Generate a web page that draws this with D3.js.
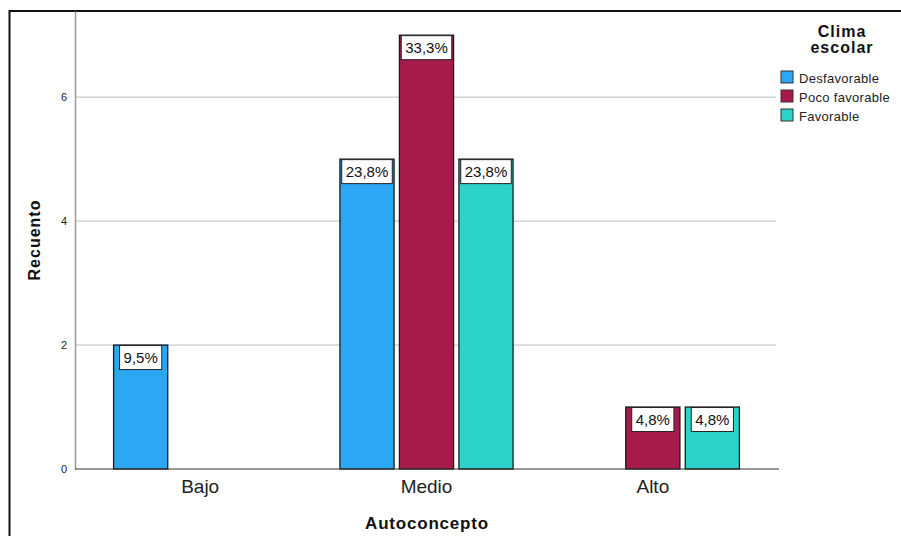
<!DOCTYPE html>
<html><head><meta charset="utf-8">
<script src="https://cdn.jsdelivr.net/npm/d3@7"></script>
<style>body{margin:0;background:#fff}svg{display:block;font-family:"Liberation Sans",Arial,sans-serif}</style>
</head><body>
<svg id="c" width="901" height="536"></svg>
<script>
const categories = ["Bajo", "Medio", "Alto"];
const seriesNames = ["Desfavorable", "Poco favorable", "Favorable"];
const desfavorable = [2, 5, 0];
const pocoFavorable = [0, 7, 1];
const favorable = [0, 5, 1];
const yTicks = [0, 2, 4, 6];
const colors = ["#2ba7f3", "#a71a4c", "#2bd3ca"];
const xTitle = "Autoconcepto";
const yTitle = "Recuento";
const legendTitle = ["Clima", "escolar"];

const seriesValues = [desfavorable, pocoFavorable, favorable];
const total = d3.sum(seriesValues.flat());
const svg = d3.select("#c");

// outer frame
svg.append("rect").attr("x", 9.5).attr("y", 11).attr("width", 1000).attr("height", 600)
  .attr("fill", "none").attr("stroke", "#111").attr("stroke-width", 2);

const y = d3.scaleLinear().domain([0, 7.39]).range([469, 11]);
const x0 = d3.scaleBand().domain(categories).range([87, 766]);
const x1 = d3.scaleBand().domain(seriesNames).range([-89.25, 89.25]).paddingInner(0.09).paddingOuter(0.045);

// grid
svg.append("g").selectAll("line").data(yTicks.filter(t => t > 0)).join("line")
  .attr("x1", 75).attr("x2", 776).attr("y1", d => y(d)).attr("y2", d => y(d))
  .attr("stroke", "#bdbdbd").attr("stroke-width", 1);

// y axis
const yAxis = svg.append("g").attr("transform", "translate(75,0)")
  .call(d3.axisLeft(y).tickValues(yTicks).tickSize(0).tickPadding(8));
yAxis.select(".domain").attr("stroke", "#9a9a9a").attr("stroke-width", 1.5);
yAxis.selectAll("text").attr("font-size", 11).attr("fill", "#222").attr("font-family", "Liberation Sans, Arial");

// bars
const data = [];
categories.forEach((c, i) => seriesNames.forEach((s, j) => {
  if (seriesValues[j][i] > 0) data.push({c, s, v: seriesValues[j][i], j});
}));
const bars = svg.append("g");
bars.selectAll("rect").data(data).join("rect")
  .attr("x", d => x0(d.c) + x0.bandwidth() / 2 + x1(d.s))
  .attr("y", d => y(d.v))
  .attr("width", x1.bandwidth())
  .attr("height", d => y(0) - y(d.v))
  .attr("fill", d => colors[d.j]).attr("stroke", "#1a1a1a").attr("stroke-width", 1.3);

// x axis
const xAxis = svg.append("g").attr("transform", "translate(0,469)")
  .call(d3.axisBottom(x0).tickSize(0).tickPadding(11));
xAxis.select(".domain").attr("stroke", "#333").attr("stroke-width", 1.2).attr("d", "M75,0H779");
xAxis.selectAll("text").attr("font-size", 19).attr("fill", "#222").attr("font-family", "Liberation Sans, Arial");

// labels
const fmt = v => d3.format(".1f")(v / total * 100).replace(".", ",") + "%";
const lab = svg.append("g");
data.forEach(d => {
  const bx = x0(d.c) + x0.bandwidth() / 2 + x1(d.s);
  const cx = bx + x1.bandwidth() / 2;
  const t = lab.append("text").attr("x", cx).attr("y", y(d.v) + 18)
    .attr("text-anchor", "middle").attr("font-size", 15).attr("fill", "#111").text(fmt(d.v));
  const w = Math.min(t.node().getComputedTextLength() + 8, x1.bandwidth() - 2);
  lab.insert("rect", "text").attr("x", cx - w / 2).attr("y", y(d.v) + 0.5)
    .attr("width", w).attr("height", 24).attr("fill", "#fff").attr("stroke", "#222").attr("stroke-width", 1);
});

// axis titles
svg.append("text").attr("x", 427).attr("y", 529).attr("text-anchor", "middle")
  .attr("font-size", 17).attr("letter-spacing", 0.8).attr("font-weight", "bold").attr("fill", "#111").text(xTitle);
svg.append("text").attr("transform", "translate(39.5,240) rotate(-90)").attr("text-anchor", "middle")
  .attr("font-size", 16).attr("letter-spacing", 1).attr("font-weight", "bold").attr("fill", "#111").text(yTitle);

// legend
const lg = svg.append("g");
legendTitle.forEach((t, i) => lg.append("text").attr("x", 842).attr("y", 37 + i * 16)
  .attr("text-anchor", "middle").attr("font-size", 16).attr("letter-spacing", 1).attr("font-weight", "bold").attr("fill", "#111").text(t));
seriesNames.forEach((s, i) => {
  lg.append("rect").attr("x", 781).attr("y", 71 + i * 19).attr("width", 12).attr("height", 12)
    .attr("fill", colors[i]).attr("stroke", "#333").attr("stroke-width", 1);
  lg.append("text").attr("x", 799).attr("y", 82.5 + i * 19).attr("font-size", 13).attr("letter-spacing", 0.3).attr("fill", "#222").text(s);
});
</script>
</body></html>
